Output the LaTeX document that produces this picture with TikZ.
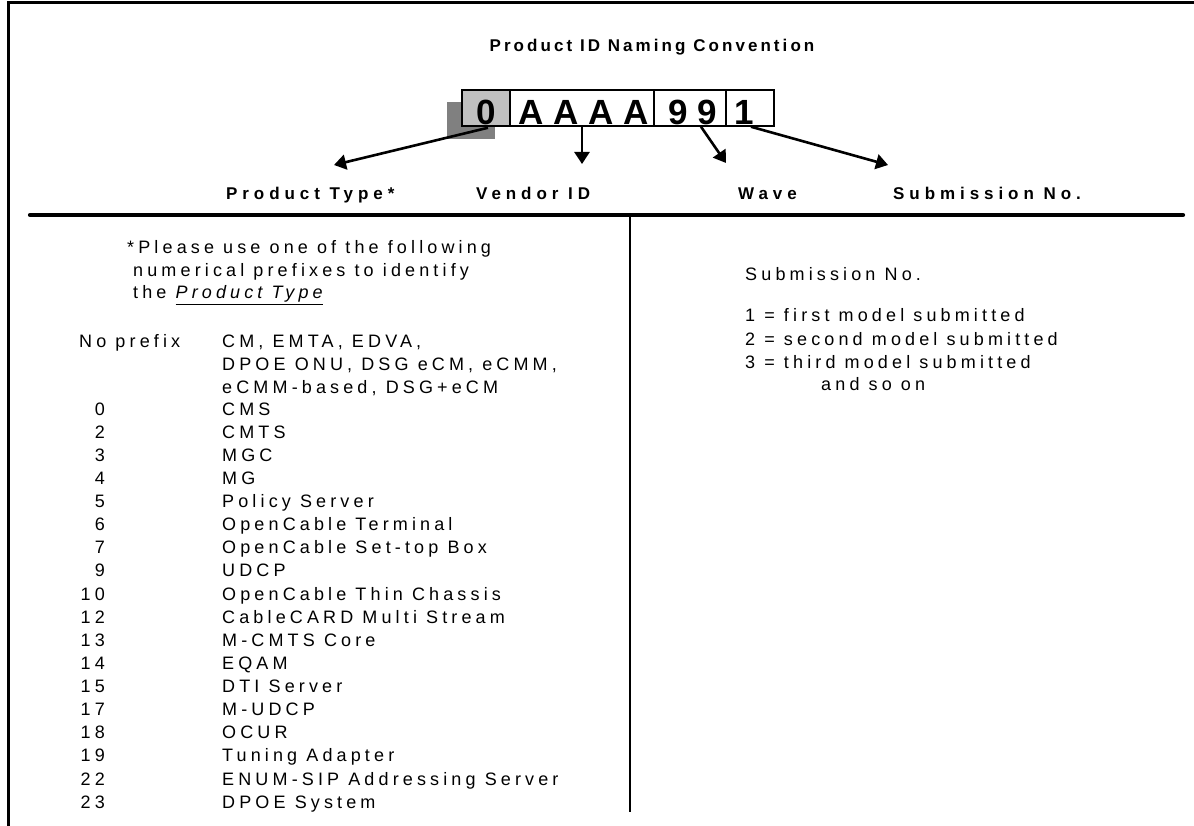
\documentclass[tikz,border=0pt]{standalone}
\usepackage{fontspec}
\setmainfont{Liberation Sans}
\newfontfamily\bodyfont{Liberation Sans}[LetterSpace=23]
\newfontfamily\headfont{Liberation Sans}[LetterSpace=29]
\newfontfamily\titlefont{Liberation Sans}[LetterSpace=18]
\newfontfamily\boxfont{Liberation Sans}[LetterSpace=28]
\usetikzlibrary{arrows.meta,calc}
\definecolor{cellgray}{HTML}{C0C0C0}
\definecolor{shadowgray}{HTML}{808080}
\begin{document}
\begin{tikzpicture}[x=1pt,y=-1pt,
  body/.style={inner sep=0pt, anchor=base west, font=\bodyfont\fontsize{18}{21}\selectfont},
  numtxt/.style={inner sep=0pt, anchor=base east, font=\bodyfont\fontsize{18}{21}\selectfont},
  head/.style={inner sep=0pt, anchor=base west, font=\headfont\bfseries\fontsize{17}{20}\selectfont},
  titlestyle/.style={inner sep=0pt, anchor=base, font=\titlefont\bfseries\fontsize{17}{20}\selectfont},
  big/.style={inner sep=0pt, anchor=base, font=\boxfont\bfseries\fontsize{35}{40}\selectfont},
  cell/.style={draw, line width=1.5pt, inner sep=0pt, minimum height=36pt},
  pointer/.style={line width=2.6pt, -{Triangle[length=12pt,width=15pt]}}]
\useasboundingbox (0,0) rectangle (1194,826);
\fill[white] (0,0) rectangle (1194,826);
% frame
\draw[line width=3pt] (8,826) -- (8,3) -- (1194,3);
\draw[line width=4.2pt, line cap=round] (30,215) -- (1183,215);
\draw[line width=1.6pt] (630,215) -- (630,812);
% title
\node[titlestyle] (title) at (652,52) {Product ID Naming Convention};
% code box
\fill[shadowgray] (447,102) rectangle (495,139);
\node[cell, fill=cellgray, minimum width=48pt] (c0) at (486,108) {};
\node[cell, fill=white, minimum width=144pt] (cA) at (582,108) {};
\node[cell, fill=white, minimum width=72pt] (c9) at (690,108) {};
\node[cell, fill=white, minimum width=48pt] (c1) at (750,108) {};
\node[big] (t0) at (486,125) {0};
\node[big] (tA) at (584,125) {AAAA};
\node[big] (t9) at (693,125) {99};
\node[big] (t1) at (744,125) {1};
% arrow tips
\coordinate (p1) at (334,165);
\coordinate (p2) at (582,164);
\coordinate (p3) at (726,163);
\coordinate (p4) at (888,165);
\draw[pointer] ($(c0.south)+(2,1)$) -- (p1);
\draw[pointer] (cA.south) -- (p2);
\draw[pointer] ($(c9.south)+(11,0)$) -- (p3);
\draw[pointer] ($(c1.south)+(1,0)$) -- (p4);
% labels
\node[head] (ptype) at (226,200) {Product Type*};
\node[head] (vid) at (476,200) {Vendor ID};
\node[head] (wave) at (738,200) {Wave};
\node[head] (subno) at (893,200) {Submission No.};
% left column
\node[body] (note1) at (127,254) {*Please use one of the following};
\node[body] (note2) at (133,277) {numerical prefixes to identify};
\node[body] (note3) at (133,299) {the \underline{\itshape Product Type}};
\node[body] (nopre) at (79,347) {No prefix};
\node[body] (np1) at (222,347) {CM, EMTA, EDVA,};
\node[body] (np2) at (222,370) {DPOE ONU, DSG eCM, eCMM,};
\node[body] (np3) at (222,393) {eCMM-based, DSG+eCM};
\foreach \n/\d [count=\i from 0] in {0/CMS, 2/CMTS, 3/MGC, 4/MG, 5/Policy Server,
  6/OpenCable Terminal, 7/OpenCable Set-top Box, 9/UDCP, 10/OpenCable Thin Chassis,
  12/CableCARD Multi Stream, 13/M-CMTS Core, 14/EQAM, 15/DTI Server, 17/M-UDCP,
  18/OCUR, 19/Tuning Adapter, 22/ENUM-SIP Addressing Server, 23/DPOE System}{
  \node[numtxt] (n\i) at (105,415+23.13*\i) {\n};
  \node[body] (d\i) at (222,415+23.13*\i) {\d};
}
% right column
\node[body] (rs) at (745,281) {Submission No.};
\node[body] (r1) at (745,322) {1 = first model submitted};
\node[body] (r2) at (745,345) {2 = second model submitted};
\node[body] (r3) at (745,368) {3 = third model submitted};
\node[body] (r4) at (821,390) {and so on};
\end{tikzpicture}
\end{document}
